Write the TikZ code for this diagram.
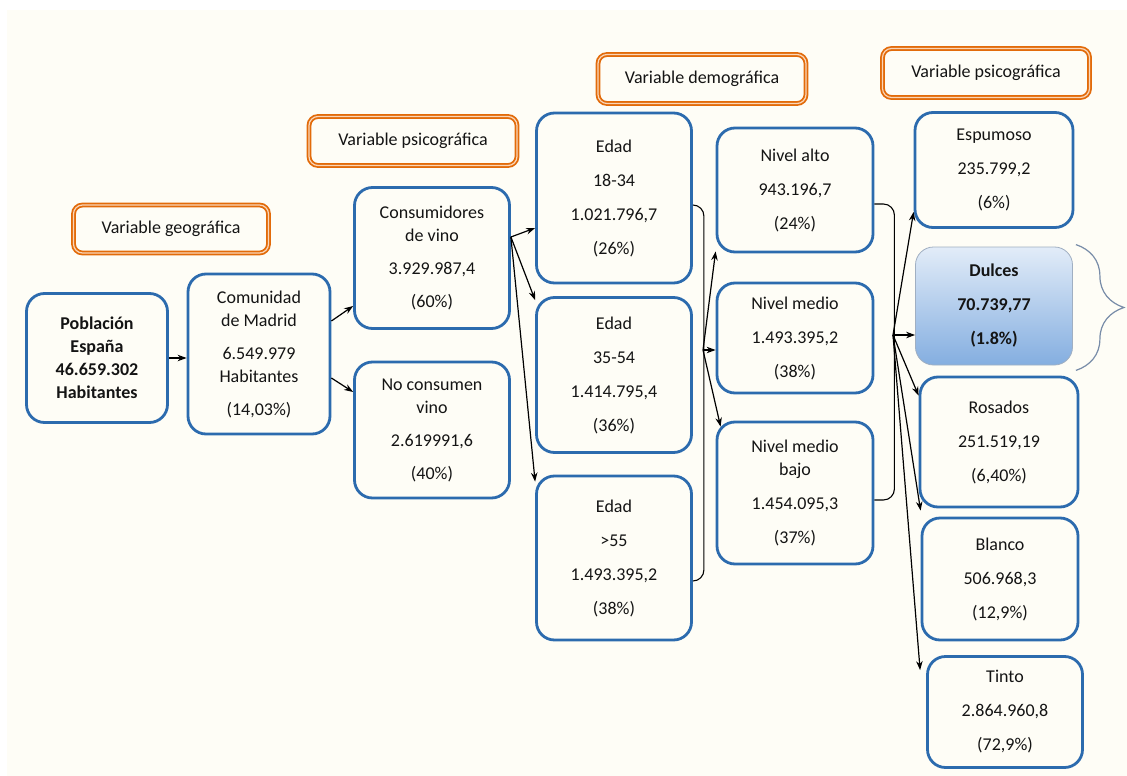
\documentclass[tikz,border=0pt]{standalone}
\usepackage{fontspec}
\setmainfont{Carlito}
\usetikzlibrary{arrows.meta,decorations.pathreplacing}
\definecolor{boxblue}{RGB}{44,107,174}
\definecolor{tagorange}{RGB}{226,107,10}
\definecolor{taginner}{RGB}{250,214,184}
\definecolor{paper}{RGB}{254,253,246}
\definecolor{ink}{RGB}{20,20,20}
\definecolor{sweetlight}{RGB}{226,236,248}
\definecolor{sweetdark}{RGB}{132,174,224}
\definecolor{bracegray}{RGB}{120,140,168}
\tikzset{
    segbox/.style={draw=boxblue,line width=2.8pt,rounded corners=18pt,fill=paper,align=center,text=ink,
        font=\fontsize{18}{23}\selectfont,anchor=center},
    vartag/.style={draw=tagorange,double=taginner,double distance=1.2pt,line width=1.8pt,rounded corners=9pt,
        fill=paper,text=ink,font=\fontsize{18}{23}\selectfont,anchor=center},
    link/.style={draw=black,line width=1.2pt,-{Stealth[length=9pt,width=6.5pt]}},
    bracket/.style={draw=black,line width=1.1pt,rounded corners=11pt},
}
\begin{document}
\begin{tikzpicture}[x=1pt,y=-1pt]
        \fill[white] (0,0) rectangle (1127,776);
        \fill[paper] (7,10) rectangle (1127,776);
        % variable tags
        \node[vartag,minimum width=195pt,minimum height=48pt] (tgeo) at (171,229) {Variable geográfica};
        \node[vartag,minimum width=208pt,minimum height=49pt] (tpsi) at (413,141) {Variable psicográfica};
        \node[vartag,minimum width=208pt,minimum height=49pt] (tdem) at (702,79) {Variable demográfica};
        \node[vartag,minimum width=207pt,minimum height=49pt] (ttipo) at (986,73) {Variable psicográfica};
        % population
        \node[segbox,minimum width=141pt,minimum height=129pt,font=\fontsize{18}{23}\selectfont\bfseries] (pob) at (97,358) {Población\\España\\46.659.302\\Habitantes};
        \node[segbox,minimum width=142pt,minimum height=160pt] (mad) at (259,354) {Comunidad\\de Madrid\\[10pt]6.549.979\\Habitantes\\[10pt](14,03\%)};
        \node[segbox,minimum width=155pt,minimum height=141pt] (cons) at (432,258) {Consumidores\\de vino\\[10pt]3.929.987,4\\[10pt](60\%)};
        \node[segbox,minimum width=155pt,minimum height=136pt] (nocons) at (432,430) {No consumen\\vino\\[10pt]2.619991,6\\[10pt](40\%)};
        % age
        \node[segbox,minimum width=155pt,minimum height=170pt] (edad1) at (614,198) {Edad\\[11pt]18-34\\[11pt]1.021.796,7\\[11pt](26\%)};
        \node[segbox,minimum width=155pt,minimum height=155pt] (edad2) at (614,375) {Edad\\[11pt]35-54\\[11pt]1.414.795,4\\[11pt](36\%)};
        \node[segbox,minimum width=155pt,minimum height=164pt] (edad3) at (614,558) {Edad\\[11pt]>55\\[11pt]1.493.395,2\\[11pt](38\%)};
        % income level
        \node[segbox,minimum width=156pt,minimum height=124pt] (nivel1) at (795,190) {Nivel alto\\[11pt]943.196,7\\[11pt](24\%)};
        \node[segbox,minimum width=156pt,minimum height=110pt] (nivel2) at (795,338) {Nivel medio\\[11pt]1.493.395,2\\[11pt](38\%)};
        \node[segbox,minimum width=156pt,minimum height=142pt] (nivel3) at (795,493) {Nivel medio\\bajo\\[11pt]1.454.095,3\\[11pt](37\%)};
        % wine type
        \node[segbox,minimum width=158pt,minimum height=115pt] (espum) at (994,170) {Espumoso\\[11pt]235.799,2\\[11pt](6\%)};
        \node[segbox,draw=bracegray!70,line width=0.8pt,top color=sweetlight,bottom color=sweetdark,
            minimum width=157pt,minimum height=118pt,font=\fontsize{18}{23}\selectfont\bfseries] (dulce) at (994,306) {Dulces\\[11pt]70.739,77\\[11pt](1.8\%)};
        \node[segbox,minimum width=158pt,minimum height=130pt] (rosado) at (999,442) {Rosados\\[11pt]251.519,19\\[11pt](6,40\%)};
        \node[segbox,minimum width=156pt,minimum height=122pt] (blanco) at (1000,579) {Blanco\\[11pt]506.968,3\\[11pt](12,9\%)};
        \node[segbox,minimum width=155pt,minimum height=111pt] (tinto) at (1005,712) {Tinto\\[11pt]2.864.960,8\\[11pt](72,9\%)};
        % brackets
        \draw[bracket] ([yshift=-7pt]edad1.east) -| ([xshift=11pt,yshift=-23pt]edad3.east) -- ([yshift=-23pt]edad3.east);
        \draw[bracket] ([yshift=-14pt]nivel1.east) -| ([xshift=20pt,yshift=-7pt]nivel3.east) -- ([yshift=-7pt]nivel3.east);
        \coordinate (consfan) at ([yshift=21pt]cons.east);
        \coordinate (edadfan) at (703,350);
        \coordinate (nivelfan) at (893,335);
        % arrows
        \draw[link] (pob.east) -- (pob.east -| mad.west);
        \draw[link] ([yshift=33pt]mad.east) -- ([yshift=-48pt]cons.west);
        \draw[link] ([yshift=-24pt]mad.east) -- ([yshift=38pt]nocons.west);
        \draw[link] (consfan) -- ([yshift=-30pt]edad1.west);
        \draw[link] (consfan) -- ([yshift=-4pt]edad2.north west);
        \draw[link] (consfan) -- ([yshift=-7pt]edad3.north west);
        \draw[link] (edadfan) -- ([yshift=2pt]nivel1.south west);
        \draw[link] (edadfan) -- (edadfan -| nivel2.west);
        \draw[link] (edadfan) -- ([xshift=5pt,yshift=-6pt]nivel3.north west);
        \draw[link] (nivelfan) -- ([yshift=17pt]espum.south west);
        \draw[link] (nivelfan) -- (nivelfan -| dulce.west);
        \draw[link] (nivelfan) -- ([yshift=-20pt]rosado.north west);
        \draw[link] (nivelfan) -- ([yshift=6pt]blanco.north west);
        \draw[link] (nivelfan) -- ([xshift=-6pt,yshift=-15pt]tinto.north west);
        % brace
        \draw[bracegray,line width=1.2pt,decorate,decoration={brace,amplitude=48pt,aspect=0.5}]
            ([xshift=3pt,yshift=2pt]dulce.north east) -- ([xshift=3pt,yshift=-5pt]dulce.south east);
    \end{tikzpicture}
\end{document}
